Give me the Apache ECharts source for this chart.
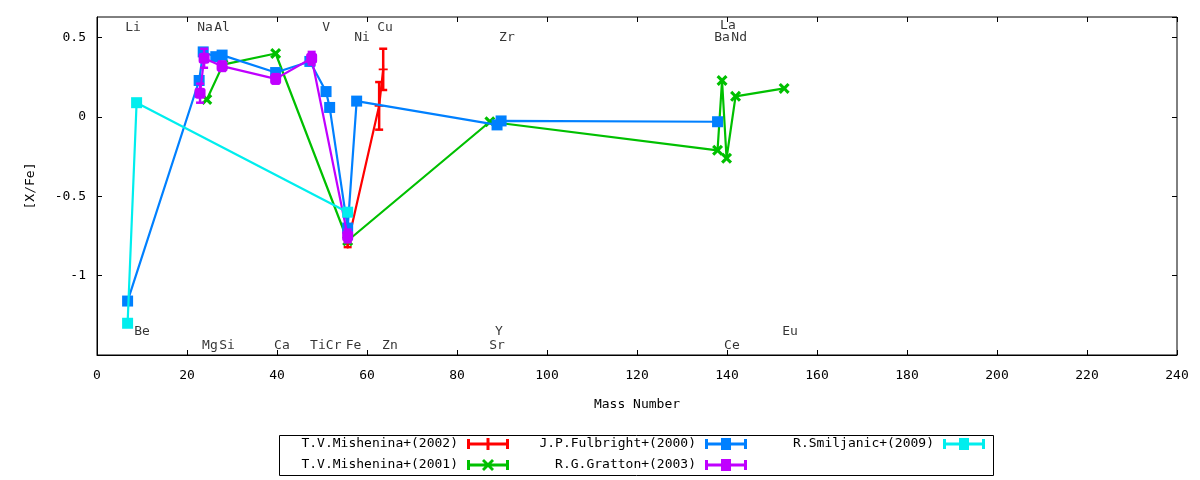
<!DOCTYPE html>
<html>
<head>
<meta charset="utf-8" />
<style>
  html, body { margin: 0; padding: 0; background: #fff; }
  #main { width: 1200px; height: 480px; }
</style>
<script src="https://cdn.jsdelivr.net/npm/echarts@6/dist/echarts.min.js"></script>
</head>
<body>
<div id="main"></div>
<script type="text/javascript">
// T.V.Mishenina+(2002)
var mish02X = [55.7, 62.7, 63.6];
var mish02Y = [-0.80, 0.07, 0.30];
var mish02Err = [0.02, 0.15, 0.13];
// T.V.Mishenina+(2001)
var mish01X = [24.4, 28.0, 39.7, 55.7, 87.3, 137.9, 138.9, 139.9, 141.9, 152.7];
var mish01Y = [0.11, 0.33, 0.40, -0.78, -0.03, -0.21, 0.23, -0.26, 0.13, 0.18];
var mish01Err = [0, 0, 0, 0, 0, 0, 0, 0, 0, 0];
// J.P.Fulbright+(2000)
var fulbX = [6.8, 22.7, 23.6, 26.4, 27.8, 39.7, 47.3, 50.9, 51.7, 55.7, 57.7, 88.9, 89.8, 137.9];
var fulbY = [-1.16, 0.23, 0.41, 0.38, 0.39, 0.28, 0.35, 0.16, 0.06, -0.70, 0.10, -0.05, -0.025, -0.03];
var fulbErr = [0, 0, 0, 0, 0, 0, 0, 0, 0, 0, 0, 0, 0, 0];
// R.G.Gratton+(2003)
var gratX = [22.9, 23.8, 27.8, 39.7, 47.7, 55.7];
var gratY = [0.15, 0.37, 0.32, 0.24, 0.37, -0.75];
var gratErr = [0.06, 0.06, 0.03, 0.03, 0.04, 0.04];
// R.Smiljanic+(2009)
var smilX = [6.8, 8.8, 55.7];
var smilY = [-1.30, 0.09, -0.60];
var smilErr = [0, 0, 0];

// element labels
var elemNames = ['Li', 'Be', 'Na', 'Al', 'Mg', 'Si', 'Ca', 'Ti', 'V', 'Cr', 'Fe', 'Ni', 'Cu', 'Zn',
                 'Sr', 'Y', 'Zr', 'Ba', 'La', 'Nd', 'Ce', 'Eu'];
var elemX = [8.0, 10.0, 24.0, 27.8, 25.1, 28.9, 41.1, 49.1, 50.9, 52.6, 57.0, 58.9, 64.0, 65.1,
             88.9, 89.3, 91.1, 138.9, 140.2, 142.7, 141.1, 154.0];
var elemY = [0.56, -1.355, 0.56, 0.56, -1.443, -1.443, -1.443, -1.443, 0.56, -1.443, -1.443, 0.497, 0.56, -1.443,
             -1.443, -1.355, 0.497, 0.497, 0.573, 0.497, -1.443, -1.355];

var xTicks = { min: 0, max: 240, interval: 20 };
var yTicks = { min: -1.5, max: 0.63, interval: 0.5 };

var FONT = 'DejaVu Sans Mono';

function pairs(xs, ys, es) {
    var out = [];
    for (var i = 0; i < xs.length; i++) {
        out.push(es ? [xs[i], ys[i], es[i]] : [xs[i], ys[i]]);
    }
    return out;
}

// vertical error bars with caps
function errorBars(params, api) {
    var x = api.value(0), y = api.value(1), e = api.value(2);
    if (!e) return null;
    var lo = api.coord([x, y - e]);
    var hi = api.coord([x, y + e]);
    var st = { stroke: api.visual('color'), lineWidth: 2.5 };
    return {
        type: 'group',
        children: [
            { type: 'line', shape: { x1: lo[0], y1: lo[1], x2: hi[0], y2: hi[1] }, style: st },
            { type: 'line', shape: { x1: lo[0] - 4, y1: lo[1], x2: lo[0] + 4, y2: lo[1] }, style: st },
            { type: 'line', shape: { x1: hi[0] - 4, y1: hi[1], x2: hi[0] + 4, y2: hi[1] }, style: st }
        ]
    };
}

var plusSym = 'path://M4,0H6V10H4Z M0,4H10V6H0Z';
var crossSym = 'path://M0,2L2,0L5,3L8,0L10,2L7,5L10,8L8,10L5,7L2,10L0,8L3,5Z';
var barBase = 'path://M0,4.5H42V7.5H0Z M0,1H3V11H0Z M39,1H42V11H39Z';
var icons = {
    plus: barBase + ' M19.5,0H22.5V12H19.5Z',
    cross: barBase + ' M15,2L17,0L21,4L25,0L27,2L23,6L27,10L25,12L21,8L17,12L15,10L19,6Z',
    square: barBase + ' M16,0H26V12H16Z'
};

var sets = [
    { name: 'T.V.Mishenina+(2002)', color: '#ff0000', x: mish02X, y: mish02Y, e: mish02Err, sym: plusSym, size: 9 },
    { name: 'T.V.Mishenina+(2001)', color: '#00c000', x: mish01X, y: mish01Y, e: mish01Err, sym: crossSym, size: 11 },
    { name: 'J.P.Fulbright+(2000)', color: '#0080ff', x: fulbX, y: fulbY, e: fulbErr, sym: 'rect', size: 11 },
    { name: 'R.G.Gratton+(2003)', color: '#c000ff', x: gratX, y: gratY, e: gratErr, sym: 'roundRect', size: 11 },
    { name: 'R.Smiljanic+(2009)', color: '#00eeee', x: smilX, y: smilY, e: smilErr, sym: 'rect', size: 11 }
];

var series = [];
sets.forEach(function (s, i) {
    series.push({
        name: s.name,
        type: 'line',
        data: pairs(s.x, s.y),
        symbol: s.sym,
        symbolSize: s.size,
        showAllSymbol: true,
        color: s.color,
        lineStyle: { width: 2.2, color: s.color },
        itemStyle: { color: s.color },
        z: 2 + i * 2,
        animation: false
    });
    series.push({
        name: s.name + ' err',
        type: 'custom',
        data: pairs(s.x, s.y, s.e),
        encode: { x: 0, y: 1 },
        renderItem: errorBars,
        itemStyle: { color: s.color },
        z: 3 + i * 2,
        animation: false
    });
});

var labelData = [];
for (var i = 0; i < elemNames.length; i++) {
    labelData.push({ name: elemNames[i], value: [elemX[i], elemY[i]] });
}
series.push({
    type: 'scatter',
    data: labelData,
    symbolSize: 0,
    silent: true,
    z: 20,
    label: {
        show: true,
        position: 'inside',
        formatter: '{b}',
        color: '#000',
        fontFamily: FONT,
        fontSize: 13
    },
    animation: false
});

function legendItem(idx, iconKey, right, top) {
    return {
        data: [{ name: sets[idx].name, icon: icons[iconKey] }],
        right: right,
        top: top,
        padding: 0,
        align: 'right',
        itemWidth: 42,
        itemHeight: 12,
        selectedMode: false,
        textStyle: { color: '#000', fontFamily: FONT, fontSize: 13, lineHeight: 14, padding: [0, 4, 0, 0] }
    };
}

var axisText = { color: '#000', fontFamily: FONT, fontSize: 13 };

var option = {
    backgroundColor: '#fff',
    animation: false,
    grid: { left: 97, right: 23, top: 17, bottom: 125, show: true, borderColor: '#000', borderWidth: 1 },
    xAxis: [{
        type: 'value',
        min: xTicks.min, max: xTicks.max, interval: xTicks.interval,
        name: 'Mass Number',
        nameLocation: 'middle',
        nameGap: 43,
        nameTextStyle: axisText,
        axisLine: { show: true, onZero: false, lineStyle: { color: '#000' } },
        axisTick: { inside: true, length: 5, lineStyle: { color: '#000' } },
        axisLabel: Object.assign({ margin: 14 }, axisText),
        splitLine: { show: false }
    }, {
        type: 'value', position: 'top',
        min: xTicks.min, max: xTicks.max, interval: xTicks.interval,
        axisLine: { show: false, onZero: false },
        axisTick: { inside: true, length: 5, lineStyle: { color: '#000' } },
        axisLabel: { show: false },
        splitLine: { show: false }
    }],
    yAxis: [{
        type: 'value',
        min: yTicks.min, max: yTicks.max, interval: yTicks.interval,
        name: '[X/Fe]',
        nameLocation: 'middle',
        nameGap: 60,
        nameRotate: 90,
        nameTextStyle: axisText,
        axisLine: { show: true, onZero: false, lineStyle: { color: '#000' } },
        axisTick: { inside: true, length: 5, lineStyle: { color: '#000' } },
        axisLabel: Object.assign({ margin: 11, showMinLabel: false, showMaxLabel: false }, axisText),
        splitLine: { show: false }
    }, {
        type: 'value', position: 'right',
        min: yTicks.min, max: yTicks.max, interval: yTicks.interval,
        axisLine: { show: false, onZero: false },
        axisTick: { inside: true, length: 5, lineStyle: { color: '#000' } },
        axisLabel: { show: false },
        splitLine: { show: false }
    }],
    legend: [
        legendItem(0, 'plus', 691, 437),
        legendItem(1, 'cross', 691, 458),
        legendItem(2, 'square', 453, 437),
        legendItem(3, 'square', 453, 458),
        legendItem(4, 'square', 215, 437)
    ],
    graphic: [{
        type: 'rect',
        shape: { x: 279.5, y: 435.5, width: 714, height: 40 },
        style: { fill: 'none', stroke: '#000', lineWidth: 1 },
        silent: true
    }],
    series: series
};

var myChart = echarts.init(document.getElementById('main'));
myChart.setOption(option);
</script>
</body>
</html>
